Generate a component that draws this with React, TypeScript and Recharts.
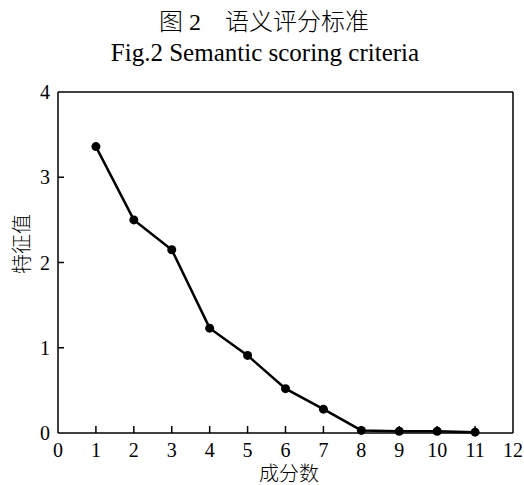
import { LineChart, Line, XAxis, YAxis, ReferenceLine } from 'recharts';

// component number vs eigenvalue (scree plot)
const components = [1, 2, 3, 4, 5, 6, 7, 8, 9, 10, 11];
const eigenvalues = [3.36, 2.5, 2.15, 1.23, 0.91, 0.52, 0.28, 0.03, 0.02, 0.02, 0.01];
const xTicks = [0, 1, 2, 3, 4, 5, 6, 7, 8, 9, 10, 11, 12];
const yTicks = [0, 1, 2, 3, 4];

const titleCn = '图 2　语义评分标准';
const titleEn = 'Fig.2 Semantic scoring criteria';
const xLabel = '成分数';
const yLabel = '特征值';

const data = components.map((c, i) => ({ x: c, y: eigenvalues[i] }));

const FONT = "'Liberation Serif', 'Noto Sans CJK SC', serif";

const XTick = (props: any) => {
  const { x, y, payload } = props;
  const edge = payload.value === 0 || payload.value === 12;
  return (
    <g>
      {!edge && <line x1={x} x2={x} y1={y} y2={y - 7} stroke="#000" strokeWidth={1.5} />}
      <text x={x} y={y + 24} textAnchor="middle" fill="#000" style={{ fontFamily: FONT, fontSize: 20 }}>
        {payload.value}
      </text>
    </g>
  );
};

const YTick = (props: any) => {
  const { x, y, payload } = props;
  const edge = payload.value === 0 || payload.value === 4;
  return (
    <g>
      {!edge && <line x1={x} x2={x + 6} y1={y} y2={y} stroke="#000" strokeWidth={1.5} />}
      <text x={x - 8} y={y + 7} textAnchor="end" fill="#000" style={{ fontFamily: FONT, fontSize: 20 }}>
        {payload.value}
      </text>
    </g>
  );
};

export default function App() {
  return (
    <div style={{ position: 'absolute', left: 0, top: 0, width: 524, height: 485, background: '#fff', fontFamily: FONT }}>
      <div style={{ position: 'absolute', top: 8, left: 2, width: 524, textAlign: 'center', fontSize: 24, lineHeight: '28px', fontWeight: 300 }}>
        {titleCn}
      </div>
      <div style={{ position: 'absolute', top: 38, width: 530, textAlign: 'center', fontSize: 25, lineHeight: '30px' }}>
        {titleEn}
      </div>
      <LineChart width={524} height={485} data={data} margin={{ top: 92, right: 11, bottom: 0, left: 0 }}>
        <XAxis
          dataKey="x"
          type="number"
          domain={[0, 12]}
          ticks={xTicks}
          interval={0}
          height={52}
          tickSize={0}
          tickMargin={0}
          tickLine={false}
          axisLine={{ stroke: '#000', strokeWidth: 1.5 }}
          tick={<XTick />}
        />
        <YAxis
          type="number"
          domain={[0, 4]}
          ticks={yTicks}
          interval={0}
          width={58}
          tickSize={0}
          tickMargin={0}
          tickLine={false}
          axisLine={{ stroke: '#000', strokeWidth: 1.5 }}
          tick={<YTick />}
        />
        <ReferenceLine y={4} stroke="#000" strokeWidth={1.5} />
        <ReferenceLine x={12} stroke="#000" strokeWidth={1.5} />
        <Line
          dataKey="y"
          stroke="#000"
          strokeWidth={2.5}
          dot={{ r: 4.5, fill: '#000', stroke: '#000', strokeWidth: 0 }}
          isAnimationActive={false}
        />
      </LineChart>
      <div style={{ position: 'absolute', left: 189, top: 461, width: 200, textAlign: 'center', fontSize: 20, lineHeight: '26px', fontWeight: 300 }}>
        {xLabel}
      </div>
      <div
        style={{
          position: 'absolute',
          left: 22,
          top: 244,
          fontSize: 20,
          lineHeight: '22px',
          fontWeight: 300,
          whiteSpace: 'nowrap',
          transform: 'translate(-50%, -50%) rotate(-90deg)',
        }}
      >
        {yLabel}
      </div>
    </div>
  );
}
